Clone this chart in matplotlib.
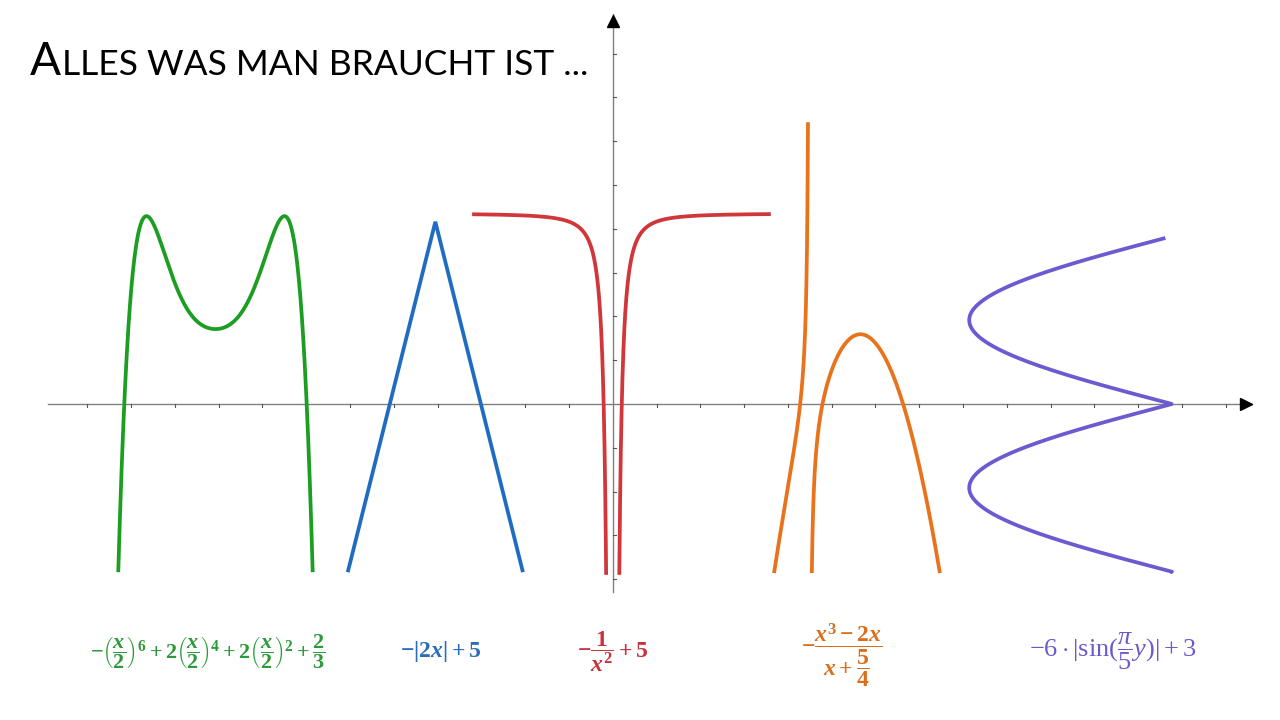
import numpy as np
import matplotlib
matplotlib.use("Agg")
import matplotlib.pyplot as plt

plt.rcParams['mathtext.fontset'] = 'custom'
plt.rcParams['mathtext.rm'] = 'Liberation Serif:bold'
plt.rcParams['mathtext.it'] = 'Liberation Serif:bold:italic'
plt.rcParams['mathtext.bf'] = 'Liberation Serif:bold'
plt.rcParams['mathtext.sf'] = 'Liberation Serif'
plt.rcParams['mathtext.tt'] = 'Liberation Serif:italic'

# axes geometry (data units)
x_ticks = [k for k in range(-12, 15) if k != 0]
y_ticks = [k for k in range(-4, 9) if k != 0]
x_axis = (-12.9, 14.6)
y_axis = (-4.3, 8.9)

# M: key points (t = distance from centre)
m_center = -9.07
m_min = 1.71            # value at the centre
m_peak_t, m_peak_y = 1.575, 4.29
m_end_t, m_end_y = 2.22, -3.84

# A: tent
a_peak_x, a_peak_y, a_slope, a_half = -4.05, 4.16, 4.0, 2.0

# T: two hyperbola branches
t_level, t_k, t_xmin, t_xmax, t_bottom = 4.35, 0.186, -3.21, 3.61, -3.9

# h: zeros, pole, scale
h_zeros = [4.28, 4.79, 6.63]
h_pole = 4.49
h_scale = 1.6
h_top, h_bottom = 6.44, -3.86

# E: sideways |sin|
e_tip, e_depth, e_period = 12.77, 4.63, 3.83
e_ymin, e_ymax = -3.84, 3.79

colors = {'g': '#1c9e22', 'b': '#1f6cc0', 'r': '#d0363a', 'o': '#e8731c', 'p': '#6a5bd0'}
text_colors = {'g': '#2c9a3a', 'b': '#2b6db7', 'r': '#c8323c', 'o': '#d96f1a', 'p': '#6a5bcc'}

fig = plt.figure(figsize=(12.8, 7.2), dpi=100)
ax = fig.add_axes([0, 0, 1, 1])
ax.set_xlim(-13.99, 15.236)
ax.set_ylim(-7.215, 9.224)
ax.axis('off')

# axes
axc = '#808080'
ax.plot(x_axis, [0, 0], color=axc, lw=1.0, zorder=1)
ax.plot([0, 0], y_axis, color=axc, lw=1.0, zorder=1)
for xt in x_ticks:
    ax.plot([xt, xt], [0, -0.07], color='#555555', lw=0.8, zorder=1)
for yt in y_ticks:
    ax.plot([0, 0.07], [yt, yt], color='#555555', lw=0.8, zorder=1)
ax.plot(x_axis[1] - 0.15, 0, marker='>', color='black', ms=9, zorder=2)
ax.plot(0, y_axis[1] - 0.15, marker='^', color='black', ms=9, zorder=2)

lw = 2.7
# M: even sextic through centre, peak (flat) and leg end
rows = [[1, 0, 0, 0],
        [1, m_peak_t**2, m_peak_t**4, m_peak_t**6],
        [0, 2*m_peak_t, 4*m_peak_t**3, 6*m_peak_t**5],
        [1, m_end_t**2, m_end_t**4, m_end_t**6]]
rhs = [m_min, m_peak_y, 0.0, m_end_y]
coef = np.linalg.solve(np.array(rows), np.array(rhs))
t = np.linspace(-m_end_t, m_end_t, 800)
ym = sum(c*t**(2*i) for i, c in enumerate(coef))
ax.plot(t + m_center, ym, color=colors['g'], lw=lw, solid_capstyle='butt')

# A
xa = np.array([a_peak_x - a_half, a_peak_x, a_peak_x + a_half])
ax.plot(xa, a_peak_y - a_slope*np.abs(xa - a_peak_x), color=colors['b'], lw=lw,
        solid_capstyle='butt', solid_joinstyle='miter')

# T
x0 = np.sqrt(t_k / (t_level - t_bottom))
xl = np.linspace(t_xmin, -x0, 1000)
xr = np.linspace(x0, t_xmax, 1000)
ax.plot(xl, t_level - t_k/xl**2, color=colors['r'], lw=lw, solid_capstyle='butt')
ax.plot(xr, t_level - t_k/xr**2, color=colors['r'], lw=lw, solid_capstyle='butt')

# h
def hfun(x):
    return -h_scale*(x - h_zeros[0])*(x - h_zeros[1])*(x - h_zeros[2])/(x - h_pole)
xh = np.linspace(3.5, h_pole - 1e-4, 20000)
yh = hfun(xh)
m = (yh >= h_bottom) & (yh <= h_top)
ax.plot(xh[m], yh[m], color=colors['o'], lw=lw, solid_capstyle='butt')
xh = np.linspace(h_pole + 1e-4, 8.0, 20000)
yh = hfun(xh)
m = yh >= h_bottom
ax.plot(xh[m], yh[m], color=colors['o'], lw=lw, solid_capstyle='butt')

# E
ye = np.linspace(e_ymin, e_ymax, 1500)
ax.plot(e_tip - e_depth*np.abs(np.sin(np.pi*ye/e_period)), ye, color=colors['p'], lw=lw,
        solid_capstyle='butt')

# formulas
fs = 16
ax.text(-9.24, -5.65, r'$-\left(\dfrac{x}{2}\right)^6+2\left(\dfrac{x}{2}\right)^4+2\left(\dfrac{x}{2}\right)^2+\dfrac{2}{3}$',
        color=text_colors['g'], fontsize=fs, ha='center', va='center')
ax.text(-3.92, -5.65, r'$-|2x|+5$', color=text_colors['b'], fontsize=fs + 1, ha='center', va='center')
ax.text(0.0, -5.65, r'$-\dfrac{1}{x^2}+5$', color=text_colors['r'], fontsize=fs + 1, ha='center', va='center')
ax.text(5.23, -5.72, r'$-\dfrac{x^3-2x}{x+\dfrac{5}{4}}$', color=text_colors['o'], fontsize=fs + 1,
        ha='center', va='center')
ax.text(11.43, -5.65, r'$\mathsf{-6\cdot|sin(}\dfrac{\mathtt{\pi}}{\mathsf{5}}\mathtt{y}\mathsf{)|+3}$',
        color=text_colors['p'], fontsize=fs + 3, ha='center', va='center')

# title in small caps
r = fig.canvas.get_renderer()
t1 = fig.text(30/1280, 1 - 75/720, 'A', fontsize=33, family='Lato', va='baseline')
bb = t1.get_window_extent(renderer=r)
fig.text((bb.x1 + 1)/1280, 1 - 75/720, 'LLES WAS MAN BRAUCHT IST ...', fontsize=25.5,
         family='Lato', va='baseline')

fig.savefig('out.png', dpi=100)
